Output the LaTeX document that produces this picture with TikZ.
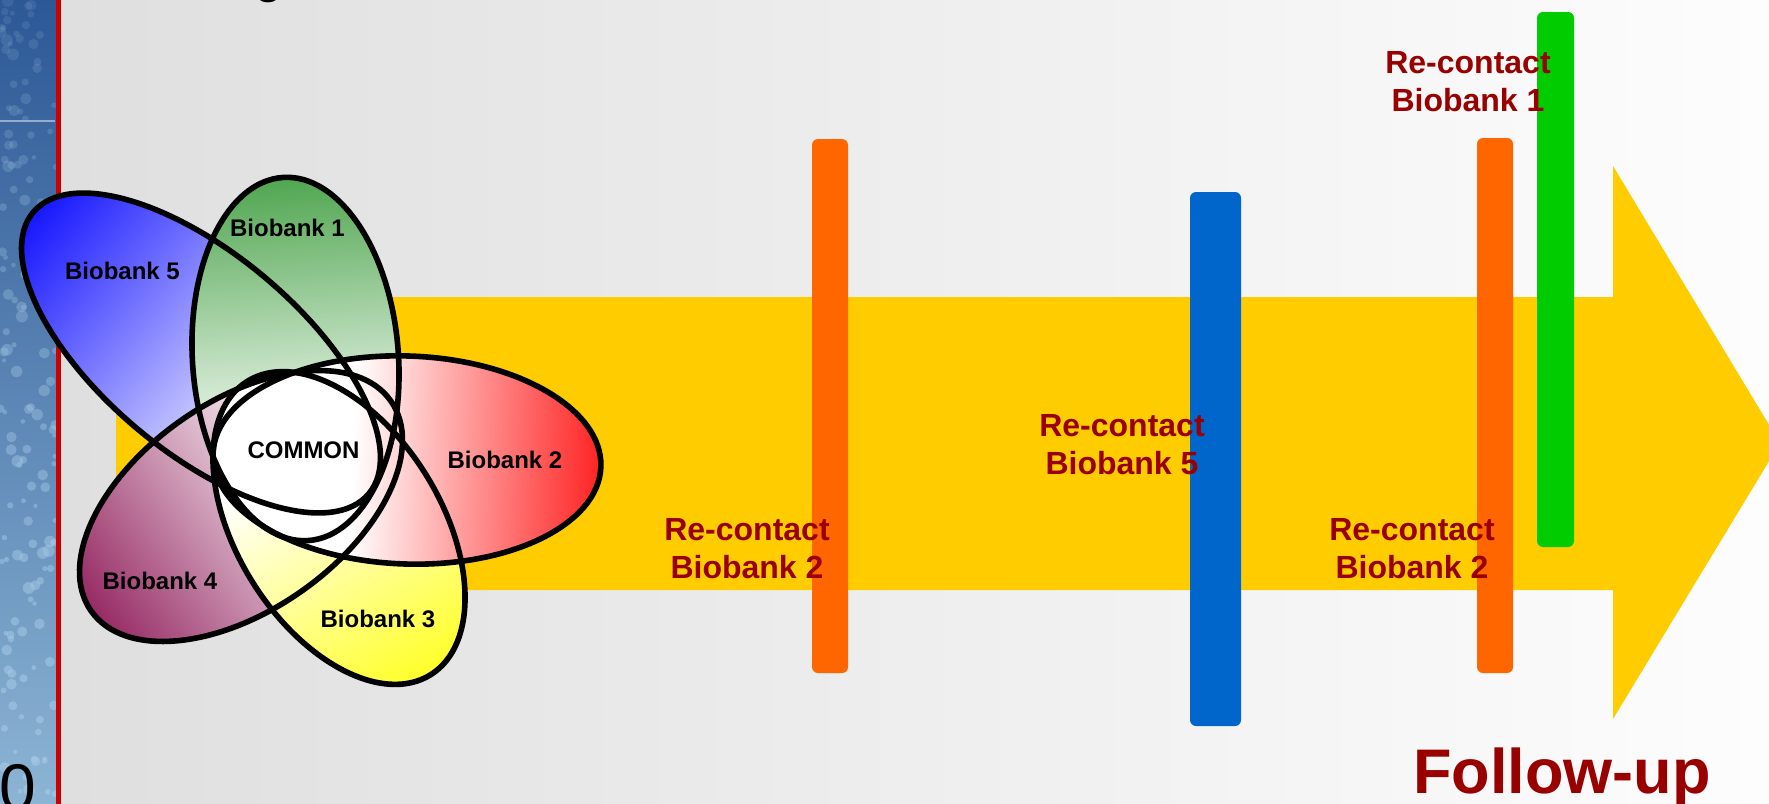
\documentclass[tikz,border=0pt]{standalone}
\usepackage{fontspec}
\setmainfont{Liberation Sans}

\definecolor{bgL}{RGB}{223,223,223}
\definecolor{bgR}{RGB}{253,253,253}
\definecolor{stripTop}{RGB}{44,88,150}
\definecolor{stripMid}{RGB}{70,125,185}
\definecolor{stripBot}{RGB}{140,180,212}
\definecolor{bubble}{RGB}{165,200,228}
\definecolor{stripLine}{RGB}{150,172,205}
\definecolor{sideRed}{RGB}{204,0,0}
\definecolor{arrowYellow}{RGB}{255,204,0}
\definecolor{barOrange}{RGB}{255,102,0}
\definecolor{barBlue}{RGB}{0,102,204}
\definecolor{barGreen}{RGB}{0,204,0}
\definecolor{labelRed}{RGB}{153,0,0}
\definecolor{petBlue}{RGB}{22,22,255}
\definecolor{petGreen}{RGB}{80,166,80}
\definecolor{petRed}{RGB}{255,35,35}
\definecolor{petYellow}{RGB}{255,255,40}
\definecolor{petMaroon}{RGB}{150,42,100}

% each petal fades from white (inner part) to its colour at the outer tip
\pgfdeclarehorizontalshading{fadeBlue}{100bp}{color(0bp)=(white); color(36bp)=(white); color(75bp)=(petBlue); color(100bp)=(petBlue)}
\pgfdeclarehorizontalshading{fadeGreen}{100bp}{color(0bp)=(white); color(36bp)=(white); color(75bp)=(petGreen); color(100bp)=(petGreen)}
\pgfdeclarehorizontalshading{fadeRed}{100bp}{color(0bp)=(white); color(43bp)=(white); color(75bp)=(petRed); color(100bp)=(petRed)}
\pgfdeclarehorizontalshading{fadeYellow}{100bp}{color(0bp)=(white); color(38bp)=(white); color(75bp)=(petYellow); color(100bp)=(petYellow)}
\pgfdeclarehorizontalshading{fadeMaroon}{100bp}{color(0bp)=(white); color(36bp)=(white); color(75bp)=(petMaroon); color(100bp)=(petMaroon)}

% #1,#2 centre, #3 direction of the coloured tip, #4,#5 radii, #6 shading
\newcommand\petalfill[6]{%
  \begin{scope}[transform canvas={shift={(#1,#2)},rotate=#3}]
    \shade[shading=#6] (0,0) ellipse ({#4} and {#5});
  \end{scope}}
\newcommand\petaledge[5]{%
  \draw[petal edge,shift={(#1,#2)},rotate=#3] (0,0) ellipse ({#4} and {#5});}

\begin{document}
\begin{tikzpicture}[x=0.5pt,y=0.5pt,
  petal edge/.style={draw=black,line width=2.8pt},
  venn label/.style={font=\fontsize{12}{14}\selectfont\bfseries,text=black,inner sep=0pt,anchor=base},
  recontact/.style={font=\fontsize{16}{19}\selectfont\bfseries,text=labelRed,align=center,inner sep=0pt},
  bar/.style={rounded corners=3pt}]

\useasboundingbox (0,-804) rectangle (1769,0);
\clip (0,-804) rectangle (1769,0);

% slide background
\shade[left color=bgL,right color=bgR] (61,-804) rectangle (1769,0);

% textured side strip
\shade[top color=stripTop,middle color=stripMid,bottom color=stripBot] (0,-804) rectangle (56,0);
\pgfmathsetseed{42}
\foreach \i in {1,...,160}{
  \pgfmathsetmacro\bx{rnd*56}
  \pgfmathsetmacro\by{rnd*804}
  \pgfmathsetmacro\br{2+rnd*4}
  \pgfmathsetmacro\bo{0.12+0.55*\by/804}
  \fill[bubble,opacity=\bo] (\bx,-\by) circle (\br);
}
\draw[stripLine,line width=0.6pt] (0,-121) -- (55,-121);
\fill[sideRed] (56,-804) rectangle (61,0);

% time arrow
\fill[arrowYellow] (116,-297) -- (1613,-297) -- (1613,-166) -- (1780,-443)
  -- (1613,-719) -- (1613,-590) -- (116,-590) -- cycle;

% five-set Venn petals
\petalfill{201}{-353}{140}{219}{99}{fadeBlue}
\petalfill{295.5}{-359}{94}{182}{103}{fadeGreen}
\petalfill{241}{-506}{215}{183}{104.5}{fadeMaroon}
\petalfill{339}{-528}{-58}{173}{102}{fadeYellow}
\petalfill{407}{-460}{-2}{194}{104}{fadeRed}

\petaledge{201}{-353}{140}{219}{99}
\petaledge{295.5}{-359}{94}{182}{103}
\petaledge{241}{-506}{215}{183}{104.5}
\petaledge{339}{-528}{-58}{173}{102}
\petaledge{407}{-460}{-2}{194}{104}

\node[venn label] (b5) at (122.5,-279) {Biobank 5};
\node[venn label] (b1) at (287.5,-236) {Biobank 1};
\node[venn label] (common) at (303.5,-458) {COMMON};
\node[venn label] (b2) at (505,-468) {Biobank 2};
\node[venn label] (b4) at (160,-589) {Biobank 4};
\node[venn label] (b3) at (378,-627) {Biobank 3};

% re-contact markers
\fill[barOrange,bar] (812,-139) rectangle (848,-673);
\fill[barBlue,bar] (1190,-192) rectangle (1241,-726);
\fill[barOrange,bar] (1477,-138) rectangle (1513,-673);
\fill[barGreen,bar] (1537,-12) rectangle (1574,-547);

\node[recontact] (rc1) at (747,-549) {Re-contact\\Biobank 2};
\node[recontact] (rc2) at (1122,-445) {Re-contact\\Biobank 5};
\node[recontact] (rc3) at (1412,-549) {Re-contact\\Biobank 2};
\node[recontact] (rc4) at (1468,-82) {Re-contact\\Biobank 1};

\node[font=\fontsize{31.5}{36}\selectfont\bfseries,text=labelRed,inner sep=0pt,anchor=base]
  (followup) at (1562,-793) {Follow-up};

% edges of the slide title and page number
\node[font=\fontsize{22}{26}\selectfont\bfseries,inner sep=0pt,anchor=base west] (title) at (255,6.5) {g};
\node[font=\fontsize{33}{40}\selectfont,inner sep=0pt,anchor=base west] (pagenum) at (-1,-810) {0};
\end{tikzpicture}
\end{document}
